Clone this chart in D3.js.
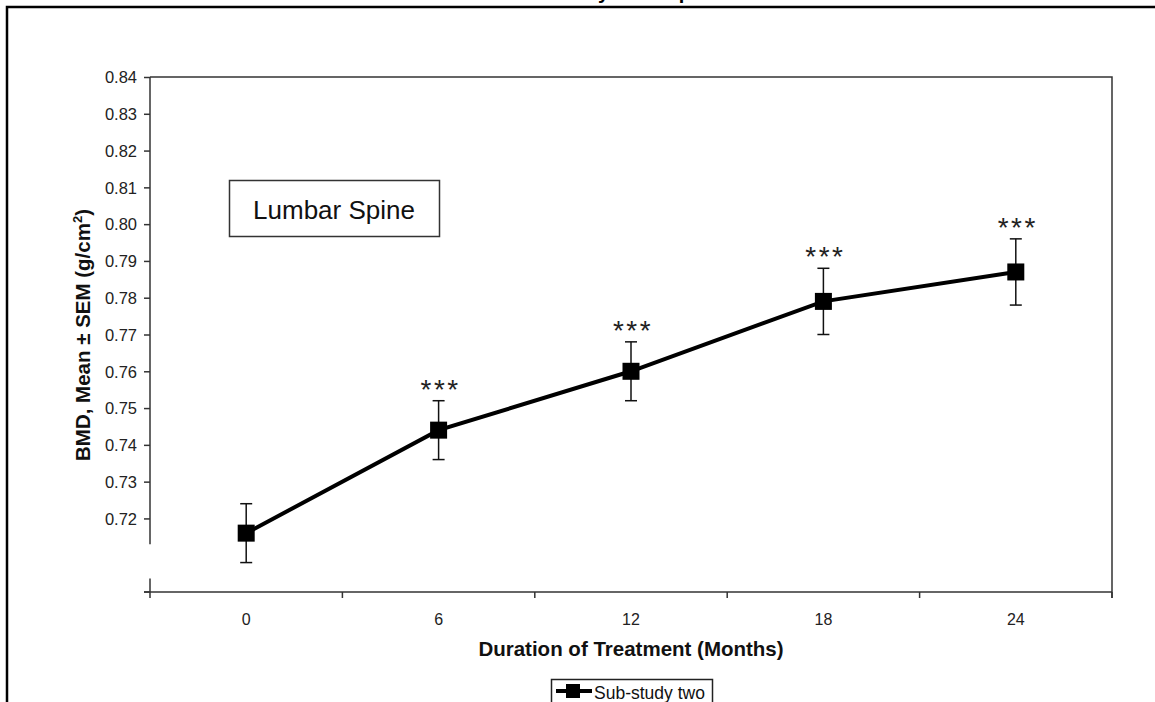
<!DOCTYPE html>
<html>
<head>
<meta charset="utf-8">
<script src="https://cdn.jsdelivr.net/npm/d3@7"></script>
<style>
  body { margin: 0; background: #fff; }
  svg { display: block; font-family: Arial, "Liberation Sans", sans-serif; }
</style>
</head>
<body>
<div id="chart"></div>
<script>
// data
var months = ["0", "6", "12", "18", "24"];
var bmdMean = [0.716, 0.744, 0.760, 0.779, 0.787];
var bmdSem = [0.008, 0.008, 0.008, 0.009, 0.009];
var stars = ["", "***", "***", "***", "***"];
var yTicks = [0.72, 0.73, 0.74, 0.75, 0.76, 0.77, 0.78, 0.79, 0.80, 0.81, 0.82, 0.83, 0.84];

var width = 1155, height = 702;
var plotL = 150, plotR = 1112, plotT = 77, plotB = 592;

var svg = d3.select("#chart").append("svg")
    .attr("width", width)
    .attr("height", height);

// outer frame (only top and left edges visible)
svg.append("path")
    .attr("d", "M7," + height + "V7H" + width)
    .attr("fill", "none")
    .attr("stroke", "#000")
    .attr("stroke-width", 2.5);

// clipped title at the very top
var title = svg.append("text")
    .attr("y", -1)
    .style("font-size", "20px")
    .style("font-weight", "bold")
    .text("Sub-study Two: Spine");
var yIdx = title.text().indexOf("y");
var off = title.node().getSubStringLength(0, yIdx);
title.attr("x", 598 - off);

var x = d3.scaleBand().domain(months).range([plotL, plotR]);
var y = d3.scaleLinear().domain([0.70, 0.84]).range([plotB, plotT]);

// plot area border (top and right)
svg.append("path")
    .attr("d", "M" + plotL + "," + plotT + "H" + plotR + "V" + (plotB + 6))
    .attr("fill", "none")
    .attr("stroke", "#333")
    .attr("stroke-width", 1.5);

// y axis, broken just below 0.72
var yAxis = svg.append("g")
    .attr("transform", "translate(" + plotL + ",0)")
    .call(d3.axisLeft(y).tickValues(yTicks).tickSize(6).tickFormat(d3.format(".2f")));
yAxis.select(".domain").remove();
yAxis.append("line").attr("y1", plotT).attr("y2", y(0.713)).attr("stroke", "#333").attr("stroke-width", 1.5);
yAxis.append("line").attr("y1", y(0.7037)).attr("y2", plotB + 6).attr("stroke", "#333").attr("stroke-width", 1.5);
yAxis.append("line").attr("x1", -6).attr("x2", 0).attr("y1", plotB).attr("y2", plotB).attr("stroke", "#333").attr("stroke-width", 1.5);
yAxis.selectAll(".tick line").attr("stroke", "#333").attr("stroke-width", 1.5);
yAxis.selectAll(".tick text")
    .attr("x", -13)
    .attr("dy", "0.35em")
    .style("font-size", "16.5px")
    .style("font-family", "Arial, 'Liberation Sans', sans-serif")
    .attr("fill", "#222");

// x axis with ticks between categories
var xAxis = svg.append("g").attr("transform", "translate(0," + plotB + ")");
xAxis.append("line").attr("x1", plotL - 6).attr("x2", plotR).attr("stroke", "#333").attr("stroke-width", 1.5);
xAxis.selectAll(".xt")
    .data(months)
    .enter().append("line")
    .attr("class", "xt")
    .attr("x1", function(d) { return x(d) + x.step(); })
    .attr("x2", function(d) { return x(d) + x.step(); })
    .attr("y1", 0).attr("y2", 6)
    .attr("stroke", "#333").attr("stroke-width", 1.5);
xAxis.selectAll(".xl")
    .data(months)
    .enter().append("text")
    .attr("class", "xl")
    .attr("x", function(d) { return x(d) + x.bandwidth() / 2; })
    .attr("y", 33)
    .attr("text-anchor", "middle")
    .style("font-size", "16px")
    .attr("fill", "#222")
    .text(function(d) { return d; });

// axis titles
svg.append("text")
    .attr("x", (plotL + plotR) / 2)
    .attr("y", 656)
    .attr("text-anchor", "middle")
    .style("font-size", "20.5px")
    .style("font-weight", "bold")
    .attr("fill", "#111")
    .text("Duration of Treatment (Months)");

var yt = svg.append("text")
    .attr("transform", "translate(90,335) rotate(-90)")
    .attr("text-anchor", "middle")
    .style("font-size", "20.5px")
    .style("font-weight", "bold")
    .attr("fill", "#111");
yt.append("tspan").text("BMD, Mean \u00b1 SEM (g/cm");
yt.append("tspan").attr("dy", -8).style("font-size", "13px").text("2");
yt.append("tspan").attr("dy", 8).text(")");

// "Lumbar Spine" label box
svg.append("rect")
    .attr("x", 229.5).attr("y", 180.5)
    .attr("width", 210).attr("height", 56)
    .attr("fill", "#fff")
    .attr("stroke", "#333").attr("stroke-width", 1.5);
svg.append("text")
    .attr("x", 334).attr("y", 219)
    .attr("text-anchor", "middle")
    .style("font-size", "26px")
    .attr("fill", "#111")
    .text("Lumbar Spine");

var cx = function(i) { return x(months[i]) + x.bandwidth() / 2; };

// error bars
var eb = svg.selectAll(".eb")
    .data(bmdMean)
    .enter().append("g")
    .attr("class", "eb")
    .attr("stroke", "#111")
    .attr("stroke-width", 1.5);
eb.append("line")
    .attr("x1", function(d, i) { return cx(i); })
    .attr("x2", function(d, i) { return cx(i); })
    .attr("y1", function(d, i) { return y(d + bmdSem[i]); })
    .attr("y2", function(d, i) { return y(d - bmdSem[i]); });
eb.append("line")
    .attr("x1", function(d, i) { return cx(i) - 6; })
    .attr("x2", function(d, i) { return cx(i) + 6; })
    .attr("y1", function(d, i) { return y(d + bmdSem[i]); })
    .attr("y2", function(d, i) { return y(d + bmdSem[i]); });
eb.append("line")
    .attr("x1", function(d, i) { return cx(i) - 6; })
    .attr("x2", function(d, i) { return cx(i) + 6; })
    .attr("y1", function(d, i) { return y(d - bmdSem[i]); })
    .attr("y2", function(d, i) { return y(d - bmdSem[i]); });

// line
var line = d3.line()
    .x(function(d, i) { return cx(i); })
    .y(function(d) { return y(d); });
svg.append("path")
    .datum(bmdMean)
    .attr("d", line)
    .attr("fill", "none")
    .attr("stroke", "#000")
    .attr("stroke-width", 4);

// markers
svg.selectAll(".mk")
    .data(bmdMean)
    .enter().append("rect")
    .attr("class", "mk")
    .attr("x", function(d, i) { return cx(i) - 8.5; })
    .attr("y", function(d) { return y(d) - 8.5; })
    .attr("width", 17).attr("height", 17)
    .attr("fill", "#000");

// significance stars
svg.selectAll(".st")
    .data(stars)
    .enter().append("text")
    .attr("class", "st")
    .attr("x", function(d, i) { return cx(i) + 2; })
    .attr("y", function(d, i) { return y(bmdMean[i] + bmdSem[i]) - 2; })
    .attr("text-anchor", "middle")
    .style("font-size", "28px")
    .style("letter-spacing", "2.5px")
    .attr("fill", "#222")
    .text(function(d) { return d; });

// legend
var lg = svg.append("g");
lg.append("rect")
    .attr("x", 551.5).attr("y", 679.5)
    .attr("width", 161).attr("height", 40)
    .attr("fill", "#fff")
    .attr("stroke", "#222").attr("stroke-width", 1.5);
lg.append("line")
    .attr("x1", 556).attr("x2", 592)
    .attr("y1", 691).attr("y2", 691)
    .attr("stroke", "#000").attr("stroke-width", 4);
lg.append("rect")
    .attr("x", 566).attr("y", 684)
    .attr("width", 14).attr("height", 14)
    .attr("fill", "#000");
lg.append("text")
    .attr("x", 594).attr("y", 699)
    .style("font-size", "17.5px")
    .attr("fill", "#111")
    .text("Sub-study two");
</script>
</body>
</html>
